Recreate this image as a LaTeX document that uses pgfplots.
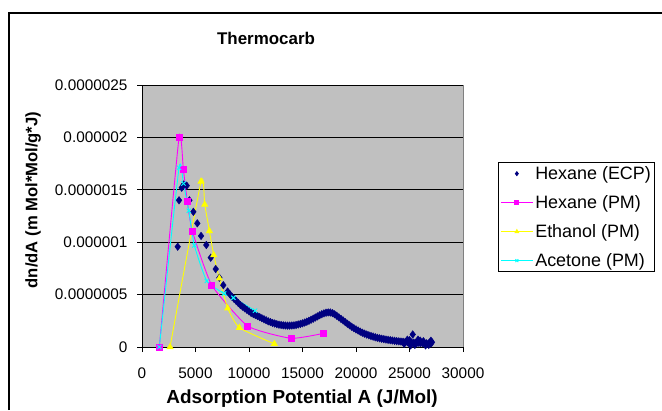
\documentclass[border=0pt]{standalone}
\usepackage{pgfplots}
\pgfplotsset{compat=1.18}
\usepackage{fontspec}
\setmainfont{Liberation Sans}
\definecolor{navyc}{HTML}{000080}
\definecolor{magc}{HTML}{FF00FF}
\definecolor{yelc}{HTML}{FFFF00}
\definecolor{cyac}{HTML}{00FFFF}
\definecolor{silverc}{HTML}{C0C0C0}
\definecolor{bordc}{HTML}{808080}
\begin{document}
\begin{tikzpicture}[x=1bp,y=1bp]
\useasboundingbox (0,0) rectangle (662,410);
\fill[white] (0,0) rectangle (662,410);
\draw[black, line width=1.3bp] (9,0) -- (9,397) -- (662,397);
\begin{axis}[
  at={(142bp,63bp)}, anchor=south west,
  width=321bp, height=262bp, scale only axis,
  xmin=0, xmax=30000, ymin=0, ymax=2.5,
  xtick={0,5000,10000,15000,20000,25000,30000},
  ytick={0,0.5,1,1.5,2,2.5},
  yticklabels={0,0.0000005,0.000001,0.0000015,0.000002,0.0000025},
  scaled x ticks=false, scaled y ticks=false,
  /pgf/number format/assume math mode=true,
  /pgf/number format/1000 sep={},
  axis lines=left,
  axis line style={-, black, line width=0.9bp},
  axis background/.style={fill=silverc, draw=bordc, line width=0.8bp},
  ymajorgrids, major grid style={black, line width=0.9bp},
  tick align=outside, major tick length=5bp,
  tick style={black, line width=0.8bp},
  tick label style={font=\fontsize{15.4}{18}\selectfont},
  xticklabel style={yshift=-12bp},
  yticklabel style={xshift=-6bp},
  clip=false,
  legend style={at={(1.109,0.706)}, anchor=north west, draw=black, fill=white,
    line width=0.8bp, font=\fontsize{18}{21}\selectfont, inner xsep=2bp, inner ysep=2bp,
    row sep=10.5bp, nodes={font=\fontsize{18}{21}\selectfont}},
  legend cell align=left,
  legend image code/.code={\draw[mark repeat=2,mark phase=2,#1] plot coordinates {(0bp,0bp) (16bp,0bp) (32bp,0bp)};},
  legend image post style={mark size=2bp},
]
% Hexane (ECP)
\addplot[only marks, mark=diamond*, mark size=3.8bp, color=navyc] coordinates {
(3340,0.957) (3460,1.40) (3710,1.52) (3900,1.55) (4180,1.54) (4430,1.40) (4800,1.29)
(5170,1.18) (5520,1.06) (6010,0.973) (6420,0.852) (6890,0.744) (7230,0.661) (7600,0.59)
(8000,0.53) (8200,0.505) (8400,0.48) (8600,0.46) (8800,0.44) (9000,0.42) (9200,0.40)
(9400,0.385) (9600,0.37) (9800,0.355) (10000,0.34) (10200,0.325) (10400,0.315)
(10600,0.305) (10800,0.295) (11000,0.285) (11200,0.275) (11400,0.265) (11600,0.255)
(11800,0.245) (12000,0.238) (12200,0.23) (12400,0.224) (12600,0.218) (12800,0.213)
(13000,0.21) (13200,0.207) (13400,0.205) (13600,0.204) (13800,0.204) (14000,0.205)
(14200,0.207) (14400,0.21) (14600,0.215) (14800,0.22) (15000,0.226) (15200,0.233)
(15400,0.241) (15600,0.25) (15800,0.26) (16000,0.27) (16200,0.281) (16400,0.292)
(16600,0.303) (16800,0.313) (17000,0.321) (17200,0.327) (17400,0.33) (17600,0.329)
(17800,0.323) (18000,0.312) (18200,0.298) (18400,0.283) (18600,0.268) (18800,0.253)
(19000,0.237) (19200,0.222) (19400,0.207) (19600,0.193) (19800,0.18) (20000,0.168)
(20200,0.157) (20400,0.146) (20600,0.136) (20800,0.127) (21000,0.119) (21200,0.112)
(21400,0.105) (21600,0.099) (21800,0.093) (22000,0.088) (22200,0.083) (22400,0.079)
(22600,0.075) (22800,0.071) (23000,0.068) (23200,0.065) (23400,0.062) (23600,0.059)
(23800,0.056) (24000,0.054) (24200,0.052) (24400,0.050) (24600,0.048) (24800,0.046)
(25000,0.044) (25200,0.043) (25300,0.12) (25400,0.042) (25600,0.040) (25800,0.039)
(26000,0.038) (26200,0.037) (26400,0.036) (26600,0.035) (26800,0.034) (27000,0.033)
(24500,0.030) (25000,0.065) (25500,0.020) (26000,0.060) (26500,0.015) (27000,0.060)
(26800,0.020) (25800,0.070) (24800,0.070) (26300,0.055) (25100,0.015) (27100,0.045)
};
\addlegendentry{Hexane (ECP)}
% Hexane (PM)
\addplot[color=magc, line width=0.9bp, smooth, tension=0.3, mark=square*, mark size=3bp,
  mark options={solid}] coordinates {
(1620,0) (3460,2.00) (3870,1.69) (4240,1.386) (4700,1.107) (6520,0.59) (9880,0.20)
(13930,0.083) (16950,0.13)
};
\addlegendentry{Hexane (PM)}
% Ethanol (PM)
\addplot[color=yelc, line width=0.9bp, smooth, tension=0.3, mark=triangle*, mark size=3.3bp] coordinates {
(2620,0) (5520,1.58) (5860,1.36) (6300,1.107) (6700,0.878) (7230,0.655) (8010,0.37)
(9100,0.184) (12370,0.03)
};
\addlegendentry{Ethanol (PM)}
% Acetone (PM)
\addplot[color=cyac, line width=0.9bp, smooth, tension=0.3, mark=x, mark size=3bp] coordinates {
(1620,0) (3460,1.71) (3870,1.56) (4370,1.30) (4890,0.97) (6050,0.63) (7670,0.51)
(8540,0.47) (10570,0.346)
};
\addlegendentry{Acetone (PM)}
\end{axis}
\node[font=\fontsize{17}{20}\selectfont\bfseries] at (266,372) {Thermocarb};
\node[font=\fontsize{19}{22}\selectfont\bfseries] at (302,11) {Adsorption Potential A (J/Mol)};
\node[font=\fontsize{16.7}{20}\selectfont\bfseries, rotate=90] at (33,210) {dn/dA (m Mol*Mol/g*J)};
\end{tikzpicture}
\end{document}
